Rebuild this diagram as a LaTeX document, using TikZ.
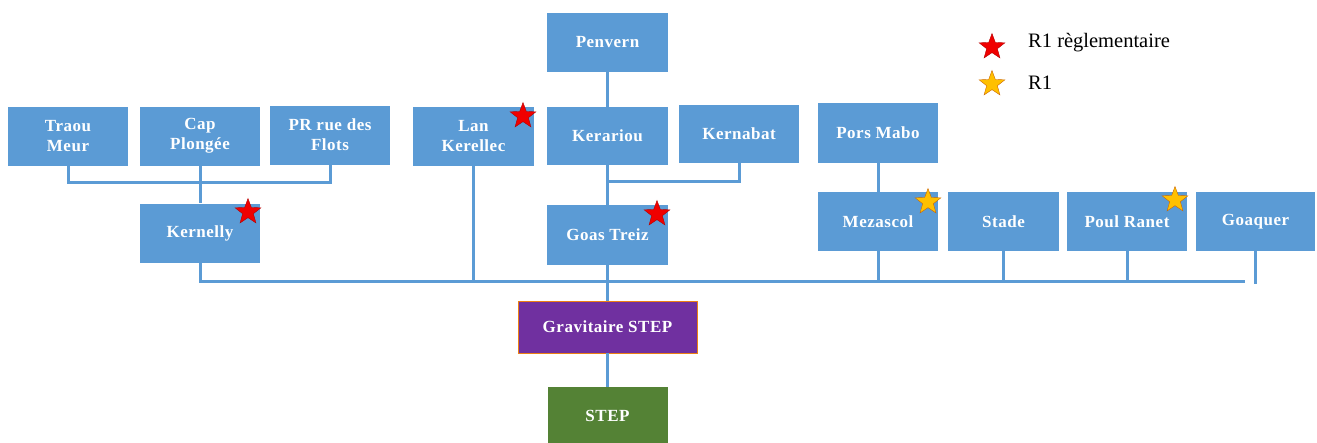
\documentclass[tikz,border=0pt]{standalone}
\usepackage{fontspec}
\setmainfont{Liberation Serif}
\newfontfamily\boxfont[LetterSpace=3]{Liberation Serif}
\usetikzlibrary{shapes.geometric}
\definecolor{boxblue}{HTML}{5B9BD5}
\definecolor{boxpurple}{HTML}{7030A0}
\definecolor{boxgreen}{HTML}{548235}
\definecolor{starred}{HTML}{F00000}
\definecolor{staryellow}{HTML}{FFC000}
\tikzset{
  box/.style={rectangle, fill=boxblue, text=white, font=\boxfont\fontsize{17}{20}\selectfont\bfseries,
    minimum width=120, minimum height=59, align=center, inner sep=1},
  link/.style={draw=boxblue, line width=3},
  starmark/.style={star, star points=5, star point ratio=2.4, minimum size=27, inner sep=0},
  redstar/.style={starmark, fill=starred, draw=red!70!black, line width=0.4},
  yellowstar/.style={starmark, fill=staryellow, draw=orange!80!black, line width=0.4},
  legend/.style={font=\fontsize{20.5}{24}\selectfont, anchor=west, text=black, inner sep=0}
}
\begin{document}
\begin{tikzpicture}[x=1pt, y=-1pt]
\useasboundingbox (0,0) rectangle (1317,442);
% boxes
\node[box] (traou) at (68,136) {Traou\\Meur};
\node[box] (cap) at (200,136) {Cap\\Plongée};
\node[box] (pr) at (330,135) {PR rue des\\Flots};
\node[box] (kernelly) at (200,233) {Kernelly};
\node[box, minimum width=121] (penvern) at (607.5,42.5) {Penvern};
\node[box, minimum width=121] (lan) at (473.5,136.5) {Lan\\Kerellec};
\node[box, minimum width=121, minimum height=58] (kerariou) at (607.5,136) {Kerariou};
\node[box, minimum height=58] (kernabat) at (739,134) {Kernabat};
\node[box, minimum width=121, minimum height=60] (goas) at (607.5,235) {Goas Treiz};
\node[box, minimum height=60] (pors) at (878,133) {Pors Mabo};
\node[box] (mezascol) at (878,221.5) {Mezascol};
\node[box, minimum width=111] (stade) at (1003.5,221.5) {Stade};
\node[box] (poul) at (1127,221.5) {Poul Ranet};
\node[box, minimum width=119] (goaquer) at (1255.5,221.5) {Goaquer};
\node[box, fill=boxpurple, draw=orange!70!brown, line width=0.8, minimum width=179, minimum height=52] (grav) at (607.5,327) {Gravitaire STEP};
\node[box, fill=boxgreen, minimum width=120, minimum height=58] (step) at (607.5,416) {STEP};
% connectors
\coordinate (kj) at (68,182);
\coordinate (nj) at (739,181);
\coordinate (busend) at (1245,281);
\draw[link] (traou.south) -- (kj) -| (pr.south);
\draw[link] (cap.south) -- (kernelly.north);
\draw[link] (penvern.south) -- (kerariou.north);
\draw[link] (kerariou.south) -- (goas.north);
\draw[link] (kernabat.south) -- (nj) -- (nj -| kerariou.south);
\draw[link] (pors.south) -- (mezascol.north);
\draw[link] (kernelly.south) |- (busend);
\draw[link] (lan.south) -- (lan.south |- busend);
\draw[link] (goas.south) -- (goas.south |- busend);
\draw[link] (mezascol.south) -- (mezascol.south |- busend);
\draw[link] (stade.south) -- (stade.south |- busend);
\draw[link] (poul.south) -- (poul.south |- busend);
\draw[link] (goaquer.south) -- ++(0,33);
\draw[link] (goas.south |- busend) -- (grav.north);
\draw[link] (grav.south) -- (step.north);
% stars
\node[redstar] (s1) at (248,212) {};
\node[redstar] (s2) at (523,116) {};
\node[redstar] (s3) at (657,214) {};
\node[yellowstar] (s4) at (928,202) {};
\node[yellowstar] (s5) at (1175,200) {};
% legend
\node[redstar] (l1) at (992,47) {};
\node[legend] (lt1) at (1028,43) {R1 règlementaire};
\node[yellowstar] (l2) at (992,84) {};
\node[legend] (lt2) at (1028,83) {R1};
\end{tikzpicture}
\end{document}
